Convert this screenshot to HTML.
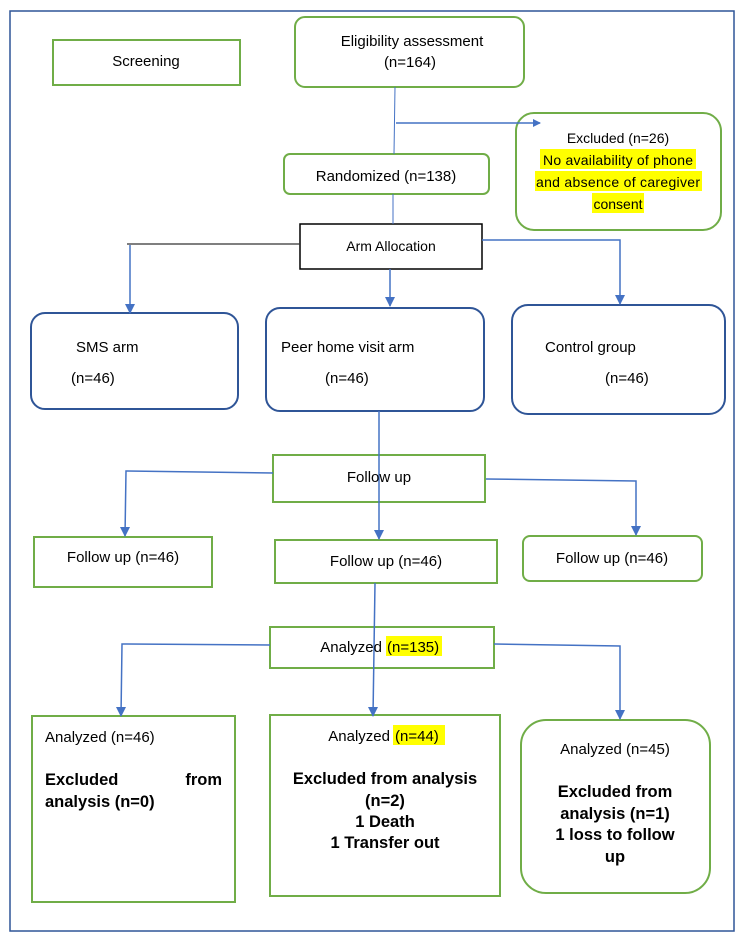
<!DOCTYPE html>
<html><head><meta charset="utf-8"><style>
html,body{margin:0;padding:0;background:#fff}
svg{display:block}
text{font-family:"Liberation Sans",sans-serif;font-size:15px;fill:#000}
.b{font-weight:bold;font-size:16.5px}
.s{font-size:14px}
</style></head><body>
<svg width="744" height="940" viewBox="0 0 744 940">
<defs><marker id="a" markerWidth="8" markerHeight="8" refX="7" refY="4" orient="auto" markerUnits="userSpaceOnUse"><path d="M0,0 L8,4 L0,8 z" fill="#4472c4"/></marker>
<marker id="ad" markerWidth="10" markerHeight="10" refX="5" refY="9" orient="0" markerUnits="userSpaceOnUse"><path d="M0,0 L10,0 L5,10 z" fill="#4472c4"/></marker></defs>
<rect x="10" y="11" width="724" height="920" fill="none" stroke="#2f5597" stroke-width="1.5"/>
<g fill="none" stroke="#70ad47" stroke-width="2">
<rect x="53" y="40" width="187" height="45"/>
<rect x="295" y="17" width="229" height="70" rx="10"/>
<rect x="516" y="113" width="205" height="117" rx="18"/>
<rect x="284" y="154" width="205" height="40" rx="6"/>
<rect x="273" y="455" width="212" height="47"/>
<rect x="34" y="537" width="178" height="50"/>
<rect x="275" y="540" width="222" height="43"/>
<rect x="523" y="536" width="179" height="45" rx="7"/>
<rect x="270" y="627" width="224" height="41"/>
<rect x="32" y="716" width="203" height="186"/>
<rect x="270" y="715" width="230" height="181"/>
<rect x="521" y="720" width="189" height="173" rx="25"/>
</g>
<rect x="300" y="224" width="182" height="45" fill="none" stroke="#000" stroke-width="1.5"/>
<g fill="none" stroke="#2f5597" stroke-width="2">
<rect x="31" y="313" width="207" height="96" rx="14"/>
<rect x="266" y="308" width="218" height="103" rx="14"/>
<rect x="512" y="305" width="213" height="109" rx="16"/>
</g>
<g fill="none" stroke="#4472c4" stroke-width="1.5">
<line x1="395" y1="87" x2="394" y2="154" stroke-width="1"/>
<line x1="396" y1="123" x2="540" y2="123" marker-end="url(#a)"/>
<line x1="393" y1="194" x2="393" y2="224" stroke-width="1"/>
<line x1="390" y1="269" x2="390" y2="306" marker-end="url(#ad)"/>
<polyline points="482,240 620,240 620,304" marker-end="url(#ad)"/>
<line x1="130" y1="245" x2="130" y2="313" marker-end="url(#ad)"/>
<line x1="379" y1="411" x2="379" y2="539" marker-end="url(#ad)"/>
<polyline points="273,473 126,471 125,536" marker-end="url(#ad)"/>
<polyline points="486,479 636,481 636,535" marker-end="url(#ad)"/>
<line x1="375" y1="583" x2="373" y2="716" marker-end="url(#ad)"/>
<polyline points="270,645 122,644 121,716" marker-end="url(#ad)"/>
<polyline points="494,644 620,646 620,719" marker-end="url(#ad)"/>
</g>
<line x1="127" y1="244" x2="300" y2="244" stroke="#333" stroke-width="1.2"/>
<text x="146" y="66" text-anchor="middle">Screening</text>
<text x="412" y="46" text-anchor="middle">Eligibility assessment</text>
<text x="410" y="67" text-anchor="middle">(n=164)</text>
<rect x="540" y="149" width="156" height="20" fill="#ffff00"/>
<rect x="535" y="171" width="167" height="20" fill="#ffff00"/>
<rect x="592" y="193" width="52" height="20" fill="#ffff00"/>
<text x="618" y="143" text-anchor="middle" class="s">Excluded (n=26)</text>
<text x="618" y="165" text-anchor="middle" class="s" textLength="150">No availability of phone</text>
<text x="618" y="187" text-anchor="middle" class="s" textLength="164">and absence of caregiver</text>
<text x="618" y="209" text-anchor="middle" class="s">consent</text>
<text x="386" y="181" text-anchor="middle">Randomized (n=138)</text>
<text x="391" y="251" text-anchor="middle" class="s">Arm Allocation</text>
<text x="76" y="352">SMS arm</text>
<text x="71" y="383">(n=46)</text>
<text x="281" y="352">Peer home visit arm</text>
<text x="325" y="383">(n=46)</text>
<text x="545" y="352">Control group</text>
<text x="605" y="383">(n=46)</text>
<text x="379" y="482" text-anchor="middle">Follow up</text>
<text x="123" y="562" text-anchor="middle">Follow up (n=46)</text>
<text x="386" y="566" text-anchor="middle">Follow up (n=46)</text>
<text x="612" y="563" text-anchor="middle">Follow up (n=46)</text>
<rect x="386" y="636" width="56" height="20" fill="#ffff00"/>
<text x="382" y="652" text-anchor="end">Analyzed</text>
<text x="387" y="652">(n=135)</text>
<text x="45" y="742">Analyzed (n=46)</text>
<text x="45" y="785" class="b">Excluded</text>
<text x="222" y="785" class="b" text-anchor="end">from</text>
<text x="45" y="807" class="b">analysis (n=0)</text>
<rect x="393" y="725" width="52" height="20" fill="#ffff00"/>
<text x="390" y="741" text-anchor="end">Analyzed</text>
<text x="395" y="741">(n=44)</text>
<text x="385" y="784" class="b" text-anchor="middle">Excluded from analysis</text>
<text x="385" y="806" class="b" text-anchor="middle">(n=2)</text>
<text x="385" y="827" class="b" text-anchor="middle">1 Death</text>
<text x="385" y="848" class="b" text-anchor="middle">1 Transfer out</text>
<text x="615" y="754" text-anchor="middle">Analyzed (n=45)</text>
<text x="615" y="797" class="b" text-anchor="middle">Excluded from</text>
<text x="615" y="819" class="b" text-anchor="middle">analysis (n=1)</text>
<text x="615" y="840" class="b" text-anchor="middle">1 loss to follow</text>
<text x="615" y="862" class="b" text-anchor="middle">up</text>
</svg>
</body></html>
